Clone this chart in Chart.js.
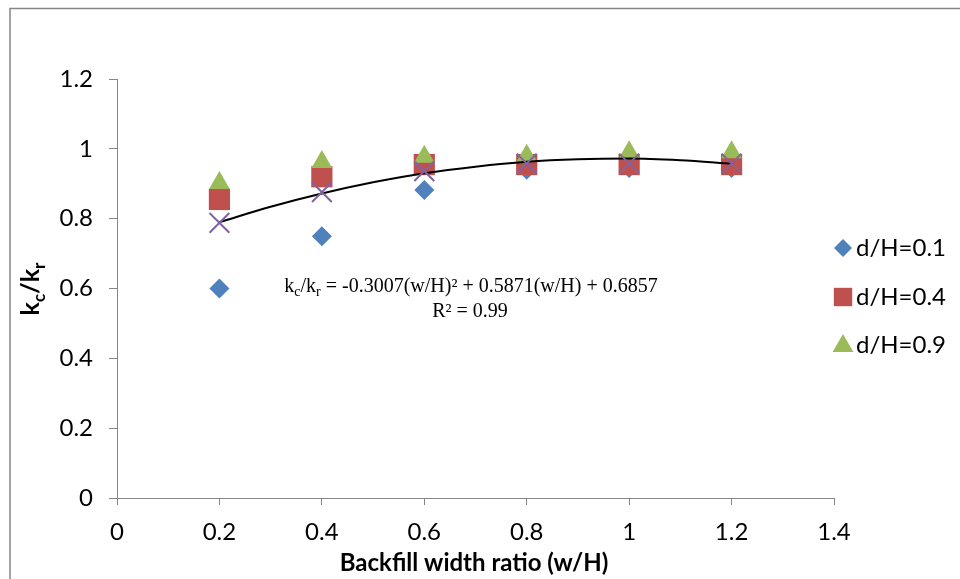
<!DOCTYPE html>
<html>
<head>
<meta charset="utf-8">
<script src="https://cdn.jsdelivr.net/npm/chart.js@4/dist/chart.umd.min.js"></script>
<style>
html,body{margin:0;padding:0;background:#fff;}
#wrap{width:960px;height:579px;position:relative;}
</style>
</head>
<body>
<div id="wrap"><canvas id="c" width="960" height="579"></canvas></div>
<script>
// ---- data ----
const xValues = [0.2, 0.4, 0.6, 0.8, 1.0, 1.2];
const dH01 = [0.60, 0.75, 0.882, 0.94, 0.945, 0.945];
const dH04 = [0.855, 0.92, 0.955, 0.955, 0.955, 0.955];
const dH09 = [0.902, 0.962, 0.977, 0.98, 0.99, 0.99];
const avgValues = [0.788, 0.876, 0.936, 0.958, 0.958, 0.958];
const trendX = [0.2, 0.3, 0.4, 0.5, 0.6, 0.7, 0.8, 0.9, 1.0, 1.1, 1.2];
const trendY = [0.790, 0.834, 0.872, 0.904, 0.930, 0.949, 0.963, 0.970, 0.972, 0.967, 0.957];
const xTickLabels = ['0', '0.2', '0.4', '0.6', '0.8', '1', '1.2', '1.4'];
const yTickLabels = ['0', '0.2', '0.4', '0.6', '0.8', '1', '1.2'];
const legendLabels = ['d/H=0.1', 'd/H=0.4', 'd/H=0.9'];
const equationText = ' = -0.3007(w/H)² + 0.5871(w/H) + 0.6857';
const r2Text = 'R² = 0.99';

const pts = (xs, ys) => xs.map((x, i) => ({x: x, y: ys[i]}));

const COLORS = {blue:'#4F81BD', red:'#C0504D', green:'#9BBB59', purple:'#8064A2'};
const SANS = 'Lato, "Open Sans", sans-serif';

const decor = {
  id: 'decor',
  beforeDraw(chart) {
    const ctx = chart.ctx;
    ctx.save();
    ctx.fillStyle = '#fff';
    ctx.fillRect(0, 0, chart.width, chart.height);
    ctx.strokeStyle = '#868686';
    ctx.lineWidth = 1.5;
    ctx.strokeRect(10, 8.5, 1000, 1000);
    ctx.restore();
  },
  afterDraw(chart) {
    const ctx = chart.ctx;
    ctx.save();
    // x axis title
    ctx.fillStyle = '#000';
    ctx.font = 'bold 24px ' + SANS;
    ctx.textAlign = 'center';
    ctx.textBaseline = 'middle';
    ctx.fillText('Backfill width ratio (w/H)', 474, 563);

    // y axis title k_c/k_r rotated
    ctx.save();
    ctx.translate(31, 289);
    ctx.rotate(-Math.PI / 2);
    const parts = [['k', 25, 0], ['c', 17, 6], ['/k', 25, 0], ['r', 17, 6]];
    let total = 0;
    parts.forEach(p => { ctx.font = 'bold ' + p[1] + 'px ' + SANS; total += ctx.measureText(p[0]).width; });
    let px = -total / 2;
    ctx.textAlign = 'left';
    ctx.textBaseline = 'alphabetic';
    parts.forEach(p => {
      ctx.font = 'bold ' + p[1] + 'px ' + SANS;
      ctx.fillText(p[0], px, 8 + p[2]);
      px += ctx.measureText(p[0]).width;
    });
    ctx.restore();

    // equation
    const SERIF = '"Liberation Serif", "Times New Roman", serif';
    const eq = [['k', 20, 0], ['c', 14, 4], ['/k', 20, 0], ['r', 14, 4], [equationText, 20, 0]];
    let w = 0;
    eq.forEach(p => { ctx.font = p[1] + 'px ' + SERIF; w += ctx.measureText(p[0]).width; });
    let ex = 471 - w / 2;
    ctx.textAlign = 'left';
    ctx.textBaseline = 'alphabetic';
    eq.forEach(p => {
      ctx.font = p[1] + 'px ' + SERIF;
      ctx.fillText(p[0], ex, 292 + p[2]);
      ex += ctx.measureText(p[0]).width;
    });
    ctx.font = '20px ' + SERIF;
    ctx.textAlign = 'center';
    ctx.fillText(r2Text, 470, 317);

    // legend
    const styles = [['rectRot', 9, COLORS.blue], ['rect', 13, COLORS.red], ['triangle', 12, COLORS.green]];
    const rows = [248, 297, 345];
    ctx.font = '24px ' + SANS;
    ctx.textAlign = 'left';
    ctx.textBaseline = 'middle';
    legendLabels.forEach((lab, i) => {
      ctx.fillStyle = styles[i][2];
      ctx.strokeStyle = styles[i][2];
      Chart.helpers.drawPoint(ctx, {pointStyle: styles[i][0], radius: styles[i][1], borderWidth: 0, rotation: 0}, 843, rows[i] + (i === 2 ? 1 : 0));
      ctx.fillStyle = '#000';
      ctx.fillText(lab, 856, rows[i]);
    });
    ctx.restore();
  }
};

new Chart(document.getElementById('c'), {
  type: 'scatter',
  data: {
    datasets: [
      {label: 'avg', data: pts(xValues, avgValues), pointStyle: 'crossRot', pointRadius: 14, borderColor: COLORS.purple, backgroundColor: COLORS.purple, pointBorderWidth: 2, order: 1},
      {label: 'trend', type: 'line', data: pts(trendX, trendY), borderColor: '#000', borderWidth: 2, pointRadius: 0, fill: false, cubicInterpolationMode: 'monotone', order: 2},
      {label: legendLabels[2], data: pts(xValues, dH09), pointStyle: 'triangle', pointRadius: 12, backgroundColor: COLORS.green, borderColor: COLORS.green, pointBorderWidth: 0, order: 3},
      {label: legendLabels[1], data: pts(xValues, dH04), pointStyle: 'rect', pointRadius: 15, backgroundColor: COLORS.red, borderColor: COLORS.red, pointBorderWidth: 0, order: 4},
      {label: legendLabels[0], data: pts(xValues, dH01), pointStyle: 'rectRot', pointRadius: 10, backgroundColor: COLORS.blue, borderColor: COLORS.blue, pointBorderWidth: 0, order: 5}
    ]
  },
  options: {
    responsive: false,
    animation: false,
    devicePixelRatio: 1,
    layout: {padding: {left: 0, top: 79, right: 126, bottom: 0}},
    plugins: {legend: {display: false}, tooltip: {enabled: false}},
    scales: {
      x: {
        type: 'linear', min: 0, max: 1.4,
        afterBuildTicks: s => { s.ticks = xTickLabels.map(t => ({value: parseFloat(t)})); },
        afterFit: s => { s.height = 81; },
        ticks: {callback: (v, i) => xTickLabels[i], color: '#000', font: {family: SANS, size: 24}, padding: 13, maxRotation: 0, autoSkip: false},
        grid: {display: true, drawOnChartArea: false, drawTicks: true, tickLength: 7, color: '#868686'},
        border: {display: true, color: '#868686', width: 1}
      },
      y: {
        type: 'linear', min: 0, max: 1.2,
        afterBuildTicks: s => { s.ticks = yTickLabels.map(t => ({value: parseFloat(t)})); },
        afterFit: s => { s.width = 117; },
        ticks: {callback: (v, i) => yTickLabels[i], color: '#000', font: {family: SANS, size: 24}, padding: 16, autoSkip: false},
        grid: {display: true, drawOnChartArea: false, drawTicks: true, tickLength: 8, color: '#868686'},
        border: {display: true, color: '#868686', width: 1}
      }
    }
  },
  plugins: [decor]
});
</script>
</body>
</html>
